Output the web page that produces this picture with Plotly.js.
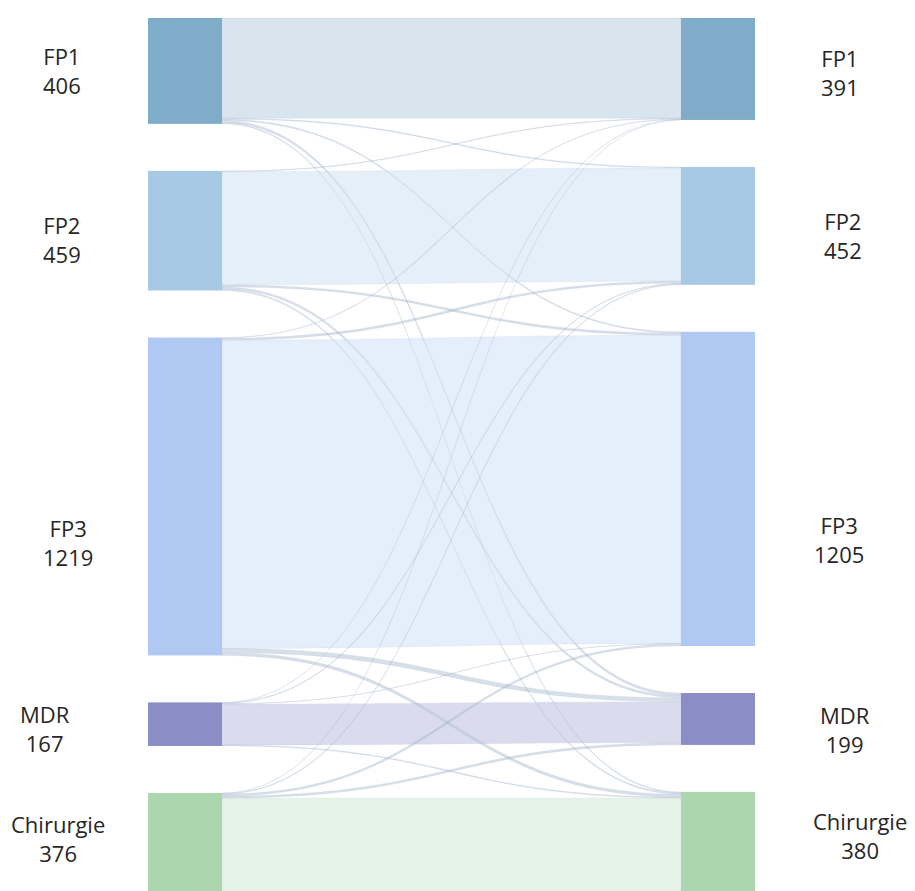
<!DOCTYPE html>
<html>
<head>
<meta charset="utf-8">
<script src="https://cdn.plot.ly/plotly-3.0.1.min.js"></script>
<style>html,body{margin:0;padding:0;background:#fff;}#chart{width:915px;height:891px;}</style>
</head>
<body>
<div id="chart"></div>
<script>
// ---- data ----
const categories = ["FP1", "FP2", "FP3", "MDR", "Chirurgie"];
const leftTotals = [406, 459, 1219, 167, 376];
const rightTotals = [391, 452, 1205, 199, 380];
// flows from each left category to right categories [FP1, FP2, FP3, MDR, Chirurgie]
const fromFP1 = [384, 4, 5, 9, 4];
const fromFP2 = [3, 434, 8, 9, 5];
const fromFP3 = [2, 8, 1182, 16, 11];
const fromMDR = [1, 3, 2, 157, 4];
const fromChirurgie = [1, 3, 8, 8, 356];

// ---- style ----
const nodeColors = ["#7fadc9", "#a8c9e5", "#afc9f3", "#8a8dc6", "#abd6ae"];
const selfLinkColors = ["rgba(190,212,228,0.6)", "rgba(205,225,243,0.55)", "rgba(208,224,248,0.55)",
                        "rgba(188,192,222,0.55)", "rgba(203,232,208,0.5)"];
const crossLinkColor = "rgba(160,178,202,0.42)";
const W = 915, H = 891;
const domX = [148 / W, 755 / W];
const topPx = 18, botPx = 891;
const PAD = 47, THICK = 74;
const labelFont = {family: "Open Sans, DejaVu Sans, sans-serif", size: 22, color: "#262626"};
const leftLabelX = [62, 62, 68, 45, 58];
const rightLabelX = [840, 843, 839, 845, 860];
const leftLabelDy = [0, 9, 46, 4, -3];
const rightLabelDy = [4, 10, 51, 11, -6];

const flows = [fromFP1, fromFP2, fromFP3, fromMDR, fromChirurgie];
const n = categories.length;
const source = [], target = [], value = [], linkColor = [];
flows.forEach((row, i) => row.forEach((v, j) => {
  source.push(i); target.push(n + j); value.push(v);
  linkColor.push(i === j ? selfLinkColors[i] : crossLinkColor);
}));

const trace = {
  type: "sankey",
  orientation: "h",
  domain: {x: domX, y: [1 - botPx / H, 1 - topPx / H]},
  node: {
    label: categories.concat(categories),
    color: nodeColors.concat(nodeColors),
    pad: PAD,
    thickness: THICK,
    line: {width: 0}
  },
  link: {
    source: source, target: target, value: value,
    color: linkColor,
    line: {color: "rgba(150,168,192,0.3)", width: 0.4}
  },
  textfont: {color: "rgba(0,0,0,0)", size: 1}
};

// label positions derived from node values (same stacking rule as the sankey layout)
function centers(totals) {
  const sum = totals.reduce((a, b) => a + b, 0);
  const k = ((botPx - topPx) - (totals.length - 1) * PAD) / sum;
  let y = topPx; const c = [];
  totals.forEach(v => { c.push(y + v * k / 2); y += v * k + PAD; });
  return c;
}
const lc = centers(leftTotals), rc = centers(rightTotals);
const annotations = [];
categories.forEach((name, i) => {
  annotations.push({xref: "paper", yref: "paper", x: leftLabelX[i] / W, y: 1 - (lc[i] + leftLabelDy[i]) / H,
    text: name + "<br>" + leftTotals[i], showarrow: false, xanchor: "center", yanchor: "middle", align: "center", font: labelFont});
  annotations.push({xref: "paper", yref: "paper", x: rightLabelX[i] / W, y: 1 - (rc[i] + rightLabelDy[i]) / H,
    text: name + "<br>" + rightTotals[i], showarrow: false, xanchor: "center", yanchor: "middle", align: "center", font: labelFont});
});

Plotly.newPlot("chart", [trace], {
  width: W, height: H,
  margin: {l: 0, r: 0, t: 0, b: 0},
  paper_bgcolor: "#ffffff",
  annotations: annotations,
  showlegend: false
}, {displayModeBar: false, staticPlot: true});
</script>
</body>
</html>
